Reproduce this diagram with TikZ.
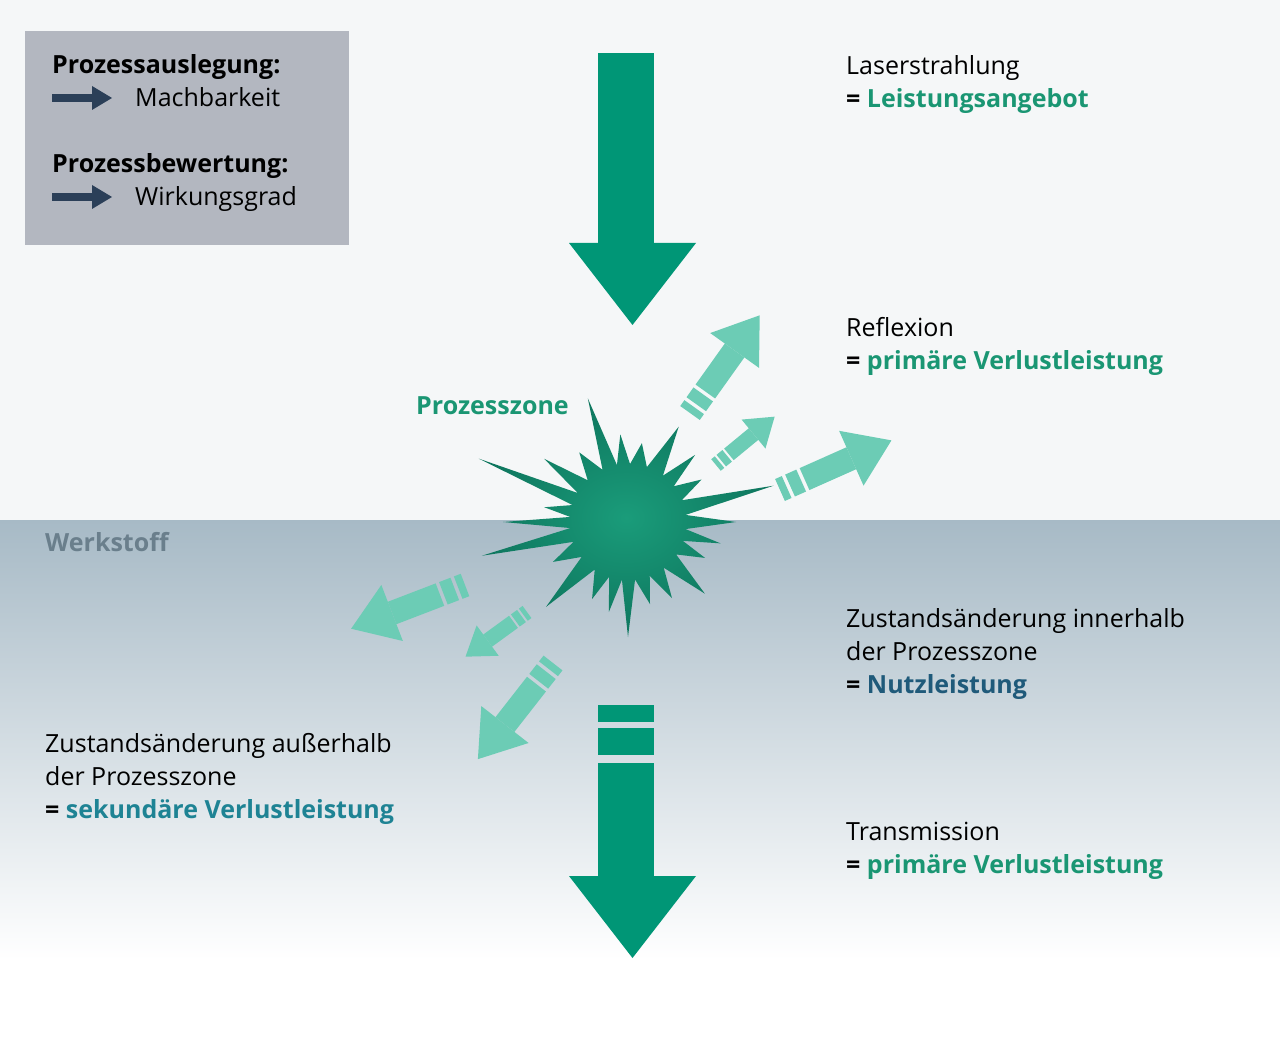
\documentclass[tikz,border=0pt]{standalone}
\usepackage{fontspec}
\setmainfont{Open Sans}
\usetikzlibrary{positioning}
\definecolor{beamgreen}{RGB}{0,150,118}
\definecolor{lightbeam}{RGB}{108,204,181}
\definecolor{textgreen}{RGB}{26,150,115}
\definecolor{nutzblue}{RGB}{31,90,122}
\definecolor{sekteal}{RGB}{30,131,148}
\definecolor{werkgrey}{RGB}{106,127,140}
\definecolor{topbg}{RGB}{245,247,248}
\definecolor{werktop}{RGB}{167,186,198}
\definecolor{legendbg}{RGB}{179,183,192}
\definecolor{legendarrow}{RGB}{43,63,88}
\definecolor{burstin}{RGB}{26,156,122}
\definecolor{burstout}{RGB}{14,118,94}
\tikzset{
  txt/.style={anchor=base west, inner sep=0pt, font=\fontsize{25}{30}\selectfont},
  bold/.style={txt, font=\fontsize{25}{30}\selectfont\bfseries},
  pics/beam/.style 2 args={code={
    \fill[lightbeam] (0,-#2/2) rectangle (0.06*#1,#2/2);
    \fill[lightbeam] (0.09*#1,-#2/2) rectangle (0.19*#1,#2/2);
    \fill[lightbeam] (0.22*#1,-#2/2) rectangle (0.64*#1,#2/2);
    \fill[lightbeam] (0.64*#1,-1.25*#2) -- (#1,0) -- (0.64*#1,1.25*#2) -- cycle;
  }},
  pics/legarrow/.style={code={
    \fill[legendarrow] (0,-4) rectangle (40,4);
    \fill[legendarrow] (40,-12) -- (60,0) -- (40,12) -- cycle;
  }}
}
\begin{document}
\begin{tikzpicture}[x=1pt,y=-1pt]
\useasboundingbox (0,0) rectangle (1280,1040);
% background
\fill[topbg] (0,0) rectangle (1280,520);
\shade[top color=werktop, bottom color=white] (0,520) rectangle (1280,960);
\fill[white] (0,960) rectangle (1280,1040);

% legend
\fill[legendbg] (25,31) rectangle (349,245);
\node[bold] (ausl) at (52,74) {Prozessauslegung:};
\pic at (52,98) {legarrow};
\node[txt] (mach) at (135,107) {Machbarkeit};
\node[bold] (bew) at (52,173) {Prozessbewertung:};
\pic at (52,197) {legarrow};
\node[txt] (wirk) at (135,206) {Wirkungsgrad};

% laser beam
\fill[beamgreen] (598,53) rectangle (654,243);
\fill[beamgreen] (569,243) -- (696,243) -- (632.5,325) -- cycle;
% transmission
\fill[beamgreen] (598,705) rectangle (654,722);
\fill[beamgreen] (598,728) rectangle (654,755);
\fill[beamgreen] (598,763) rectangle (654,876);
\fill[beamgreen] (569,876) -- (696,876) -- (632.5,958) -- cycle;

% reflected and lost beams
\pic[rotate=54.5] at (690,413) {beam={120}{24}};
\pic[rotate=39.5] at (716,465) {beam={76}{15}};
\pic[rotate=24] at (780,490) {beam={122}{24}};
\pic[rotate=201] at (465,585) {beam={122}{24}};
\pic[rotate=216] at (527,612) {beam={76}{15}};
\pic[rotate=232] at (553,663) {beam={122}{24}};

% process zone
\begin{scope}[shift={(628,522)}, yscale=-1]
\shade[inner color=burstin, outer color=burstout]
  (0:108) \foreach \a/\r in {7/58,14/150,22/58,30/85,38/58,45/95,53/58,62/108,71/58,80/80,88/58,95/88,101/58,108/130,116/58,125/85,134/58,143/105,150/58,157/162,163/58,170/85,175/58,180/125,186/58,193/150,200/58,208/85,217/58,226/118,235/58,245/85,251/58,258/92,264/58,270/115,277/58,285/85,292/58,300/88,308/58,317/105,326/58,335/85,341/58,347/95,353/58}
  { -- (\a:\r) } -- cycle;
\end{scope}
\node[bold, text=textgreen] (pz) at (416,415) {Prozesszone};
\node[bold, text=werkgrey] (werk) at (45,551) {Werkstoff};

% right labels
\node[txt] (laser) at (846,75) {Laserstrahlung};
\node[bold] (laserv) at (846,108) {= \textcolor{textgreen}{Leistungsangebot}};
\node[txt] (refl) at (846,337) {Reflexion};
\node[bold] (reflv) at (846,370) {= \textcolor{textgreen}{primäre Verlustleistung}};
\node[txt] (zin1) at (846,627) {Zustandsänderung innerhalb};
\node[txt] (zin2) at (846,660) {der Prozesszone};
\node[bold] (zinv) at (846,693) {= \textcolor{nutzblue}{Nutzleistung}};
\node[txt] (trans) at (846,840) {Transmission};
\node[bold] (transv) at (846,873) {= \textcolor{textgreen}{primäre Verlustleistung}};

% left labels
\node[txt] (zout1) at (45,752) {Zustandsänderung außerhalb};
\node[txt] (zout2) at (45,785) {der Prozesszone};
\node[bold] (zoutv) at (45,818) {= \textcolor{sekteal}{sekundäre Verlustleistung}};
\end{tikzpicture}
\end{document}
